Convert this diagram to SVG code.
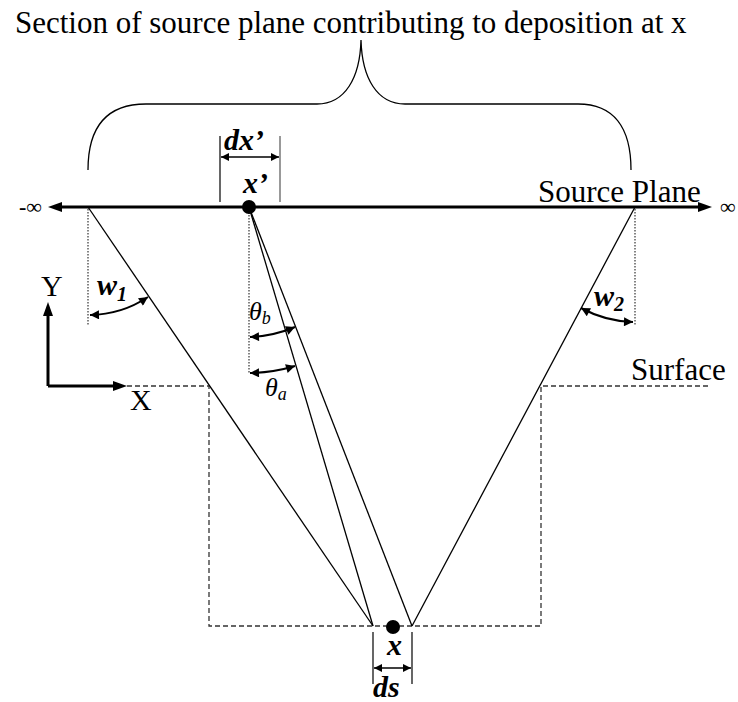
<svg xmlns="http://www.w3.org/2000/svg" width="738" height="702" viewBox="0 0 738 702">
<style>
text{font-family:"Liberation Serif","Times New Roman",serif;fill:#000}
.lbl{font-size:31px}
.bi{font-size:30px;font-weight:bold;font-style:italic}
.it{font-style:italic}
.thin{stroke:#000;stroke-width:1.3;fill:none}
.thick{stroke:#000;stroke-width:3;fill:none}
.dot{stroke:#333;stroke-width:1.2;stroke-dasharray:1.5 1.5;fill:none}
.dash{stroke:#333;stroke-width:1.3;stroke-dasharray:5 3;fill:none}
.arc{stroke:#000;stroke-width:2;fill:none;marker-start:url(#ah);marker-end:url(#ah)}
.dim{stroke:#000;stroke-width:1.6;fill:none;marker-start:url(#ahs);marker-end:url(#ahs)}
</style>
<defs>
<marker id="ah" viewBox="0 0 10 10" refX="10" refY="5" markerWidth="11" markerHeight="9" markerUnits="userSpaceOnUse" orient="auto-start-reverse"><path d="M0,0 L10,5 L0,10 z" fill="#000"/></marker>
<marker id="ahs" viewBox="0 0 10 10" refX="10" refY="5" markerWidth="9" markerHeight="8" markerUnits="userSpaceOnUse" orient="auto-start-reverse"><path d="M0,0 L10,5 L0,10 z" fill="#000"/></marker>
<marker id="ahT" viewBox="0 0 14 10" refX="8" refY="5" markerWidth="14" markerHeight="10" markerUnits="userSpaceOnUse" orient="auto-start-reverse"><path d="M0,0 L14,5 L0,10 z" fill="#000"/></marker>
</defs>

<g id="title">
<text class="lbl" x="15" y="33">Section of source plane contributing to deposition at x</text>
<path class="thin" d="M88,170 C88,128 106,104 146,104 L317,104 C345,104 360,78 361,40 C362,78 377,104 405,104 L578,104 C614,104 631,128 631,170"/>
</g>

<g id="source-plane">
<line class="thick" x1="54" y1="207" x2="706" y2="207" style="marker-start:url(#ahT);marker-end:url(#ahT)"/>
<text x="19" y="214" style="font-size:22px"><tspan font-weight="bold">-</tspan>∞</text>
<text x="720" y="214" style="font-size:22px">∞</text>
<text class="lbl" x="538" y="202">Source Plane</text>
</g>

<g id="surface">
<path class="dash" d="M127,386 L209,386 L209,626 L541,626 L541,386 L710,386"/>
<text class="lbl" x="631" y="380">Surface</text>
</g>

<g id="axes">
<line class="thick" x1="48" y1="386" x2="48" y2="308" style="marker-end:url(#ahT)"/>
<line class="thick" x1="48" y1="386" x2="121" y2="386" style="marker-end:url(#ahT)"/>
<text x="41" y="296" style="font-size:30px">Y</text>
<text x="130" y="410" style="font-size:30px">X</text>
</g>

<g id="connectors">
<line class="thin" x1="88" y1="207" x2="373" y2="626"/>
<line class="thin" x1="249" y1="207" x2="373" y2="626"/>
<line class="thin" x1="249" y1="207" x2="412" y2="626"/>
<line class="thin" x1="635" y1="207" x2="412" y2="626"/>
<line class="dot" x1="88" y1="209" x2="88" y2="325"/>
<line class="dot" x1="635" y1="209" x2="635" y2="325"/>
<line class="dot" x1="249" y1="209" x2="249" y2="373"/>
</g>

<g id="source-point">
<circle cx="249" cy="207" r="7" fill="#000"/>
<line x1="220" y1="136" x2="220" y2="202" stroke="#000" stroke-width="1.2"/>
<line x1="280" y1="136" x2="280" y2="202" stroke="#555" stroke-width="1.2"/>
<line class="dim" x1="221" y1="157" x2="279" y2="157"/>
<text class="bi" x="224" y="150">dx’</text>
<text class="bi" x="243" y="193">x’</text>
</g>

<g id="deposition-point">
<circle cx="393" cy="627" r="7" fill="#000"/>
<line x1="373" y1="632" x2="373" y2="684" stroke="#000" stroke-width="1.2"/>
<line x1="412" y1="632" x2="412" y2="684" stroke="#000" stroke-width="1.2"/>
<line class="dim" x1="374" y1="668" x2="411" y2="668"/>
<text class="bi" x="387" y="655">x</text>
<text class="bi" x="373" y="697">ds</text>
</g>

<g id="angle-w1">
<path class="arc" d="M90,315 A108,108 0 0 0 148,297"/>
<text class="bi" x="97" y="295">w<tspan style="font-size:20px" dy="6">1</tspan></text>
</g>

<g id="angle-w2">
<path class="arc" d="M581,308 A115,115 0 0 0 633,322"/>
<text class="bi" x="594" y="306">w<tspan style="font-size:20px" dy="5">2</tspan></text>
</g>

<g id="angle-theta-b">
<path class="arc" d="M250,337 A130,130 0 0 0 295,327"/>
<text class="it" x="249" y="320" style="font-size:26px">θ<tspan style="font-size:18px" dy="4">b</tspan></text>
</g>

<g id="angle-theta-a">
<path class="arc" d="M250,373 A166,166 0 0 0 295,366"/>
<text class="it" x="265" y="396" style="font-size:26px">θ<tspan style="font-size:18px" dy="4">a</tspan></text>
</g>
</svg>
